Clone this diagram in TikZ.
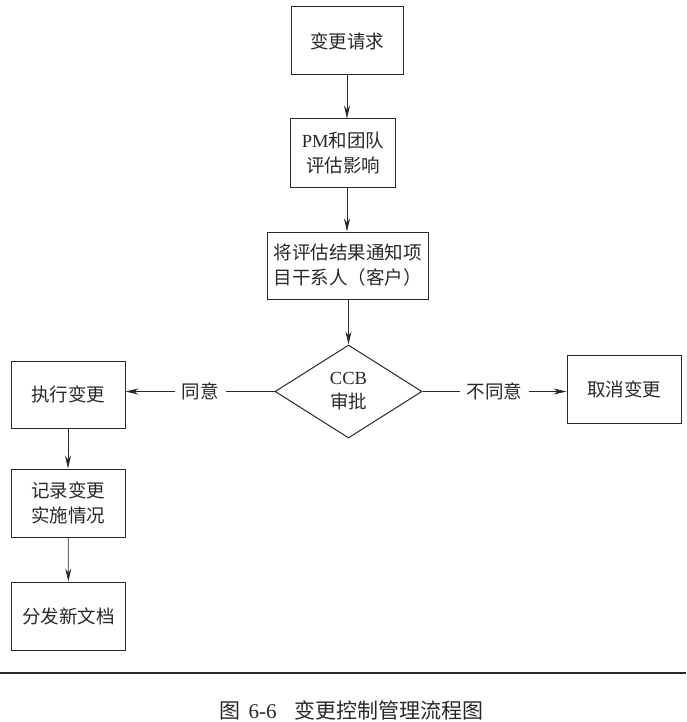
\documentclass[tikz,border=0pt]{standalone}
\usepackage{fontspec}
\setmainfont{Liberation Serif}
\newfontfamily\cjk{Noto Sans CJK SC}
\usepackage{tikz}
\usetikzlibrary{positioning,shapes.geometric,arrows.meta}
\newcommand{\lat}[1]{{\rmfamily #1}}
\definecolor{myink}{RGB}{40,40,40}

\begin{document}
\begin{tikzpicture}[
          x=1pt,y=-1pt,
          stepbox/.style={draw=myink,line width=1pt,text=myink,
            font=\cjk\fontsize{18.5}{25}\selectfont,align=center,
            minimum width=114pt,minimum height=68pt,inner sep=2pt},
          decision/.style={diamond,draw=myink,line width=1pt,text=myink,
            font=\cjk\fontsize{18.5}{24}\selectfont,align=center,
            minimum width=147pt,minimum height=93pt,inner sep=0pt},
          answer/.style={fill=white,text=myink,inner sep=7pt,
            font=\cjk\fontsize{18.5}{22}\selectfont},
          flowline/.style={draw=myink,line width=0.8pt},
          >={Stealth[length=13pt,width=6pt]}
          ]
          \useasboundingbox (0,0) rectangle (686,722);
          % the main column
          \node[stepbox,minimum width=112pt] (req) at (347,41) {变更请求};
          \node[stepbox,minimum width=105pt] (assess) at (343,153) {\lat{PM}和团队\\评估影响};
          \node[stepbox,minimum width=161pt,minimum height=67pt] (notify) at (347.5,265.5) {将评估结果通知项\\目干系人（客户）};
          \node[decision] (ccb) at (348.5,391.5) {\lat{CCB}\\审批};
          % the two outcomes
          \node[stepbox,minimum height=67pt] (exec) at (68,394.5) {执行变更};
          \node[stepbox] (cancel) at (624,389) {取消变更};
          % the left column
          \node[stepbox] (record) at (68,503) {记录变更\\实施情况};
          \node[stepbox] (publish) at (68.5,616) {分发新文档};
          % the edges
          \draw[flowline,->] (req.south) -- (req.south |- assess.north);
          \draw[flowline,->] (req |- assess.south) -- (req |- notify.north);
          \draw[flowline,->] (ccb.north |- notify.south) -- (ccb.north);
          \draw[flowline,->] (ccb.west) -- node[answer] {同意} (exec.east |- ccb.west);
          \draw[flowline,->] (ccb.east) -- node[answer] {不同意} (cancel.west |- ccb.east);
          \draw[flowline,->] (exec) -- (record);
          \draw[flowline,->] (record) -- (publish);
          % the rule and the caption
          \draw[myink,line width=1.3pt] (0,673) -- (686,673);
          \node[text=myink,inner sep=0pt,font=\cjk\fontsize{21}{24}\selectfont] (caption) at (351.5,710)
            {图\hspace{8pt}\lat{6-6}\hspace{18pt}变更控制管理流程图};
        \end{tikzpicture}
\end{document}
